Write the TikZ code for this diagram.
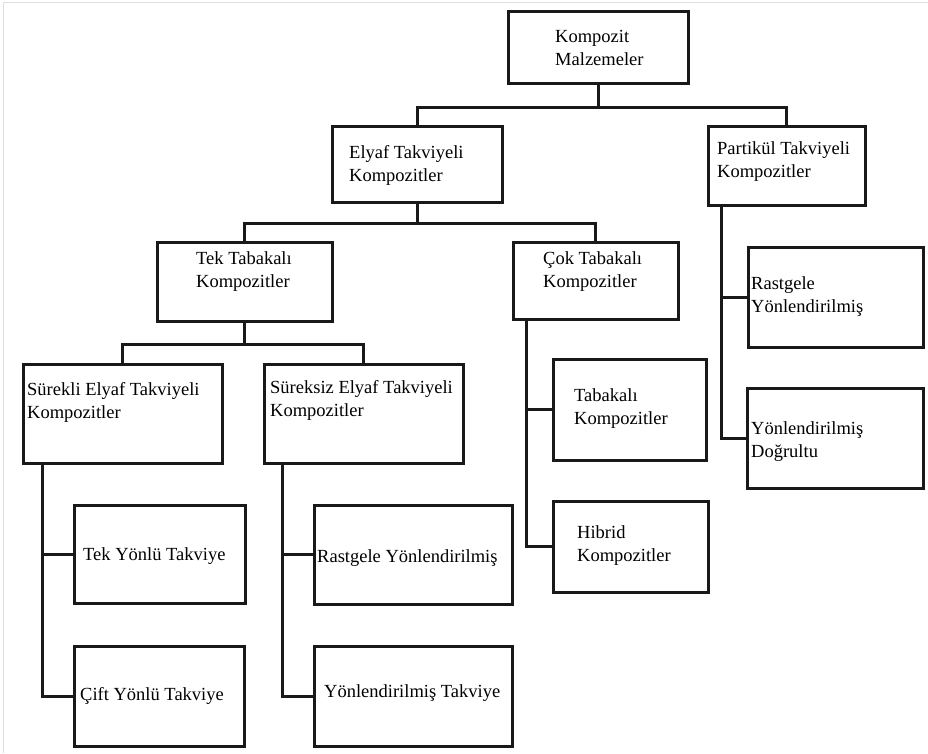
\documentclass[tikz,border=0pt]{standalone}
\usepackage{fontspec}
\setmainfont{Liberation Serif}
\usetikzlibrary{fit}
\begin{document}
\begin{tikzpicture}[x=1pt,y=-1pt,
  box/.style={draw=black!90, line width=3pt, inner sep=0pt},
  lbl/.style={anchor=base west, inner sep=0pt, align=left, text=black, font=\fontsize{18.5}{23.5}\selectfont},
  wire/.style={draw=black!90, line width=3pt}]
\useasboundingbox (0,0) rectangle (928,753);
\draw[gray!25, line width=1.5pt] (3.5,753) -- (3.5,2.5) -- (928,2.5);

% boxes
\node[box, fit={(508,11)(688,83)}] (komp) {};
\node[box, fit={(332,126)(502,202)}] (elyaf) {};
\node[box, fit={(708,126)(865,205)}] (part) {};
\node[box, fit={(157,242)(332,321)}] (tekt) {};
\node[box, fit={(513,242)(678,319)}] (cokt) {};
\node[box, fit={(748,247)(923,347)}] (prast) {};
\node[box, fit={(23,364)(222,463)}] (surek) {};
\node[box, fit={(264,364)(463,463)}] (sureks) {};
\node[box, fit={(553,359)(706,460)}] (tabak) {};
\node[box, fit={(747,388)(923,488)}] (ydog) {};
\node[box, fit={(74,505)(245,603)}] (tekyon) {};
\node[box, fit={(314,505)(512,604)}] (rastyon) {};
\node[box, fit={(553,501)(708,592)}] (hibrid) {};
\node[box, fit={(74,646)(244,746)}] (cift) {};
\node[box, fit={(314,646)(512,746)}] (ytak) {};

% texts (two-line nodes are anchored at the baseline of their last line)
\node[lbl] (komp-t) at (555,65.5) {Kompozit\\Malzemeler};
\node[lbl] (elyaf-t) at (349,181.5) {Elyaf Takviyeli\\Kompozitler};
\node[lbl] (part-t) at (717,177.5) {Partikül Takviyeli\\Kompozitler};
\node[lbl] (tekt-t) at (196,287.5) {Tek Tabakalı\\Kompozitler};
\node[lbl] (cokt-t) at (543,287.5) {Çok Tabakalı\\Kompozitler};
\node[lbl] (prast-t) at (751,312.5) {Rastgele\\Yönlendirilmiş};
\node[lbl] (surek-t) at (27,418.5) {Sürekli Elyaf Takviyeli\\Kompozitler};
\node[lbl] (sureks-t) at (270,416.5) {Süreksiz Elyaf Takviyeli\\Kompozitler};
\node[lbl] (tabak-t) at (574,424.5) {Tabakalı\\Kompozitler};
\node[lbl] (ydog-t) at (751,457.5) {Yönlendirilmiş\\Doğrultu};
\node[lbl] (tekyon-t) at (83,560) {Tek Yönlü Takviye};
\node[lbl] (rastyon-t) at (317,562) {Rastgele Yönlendirilmiş};
\node[lbl] (hibrid-t) at (577,561.5) {Hibrid\\Kompozitler};
\node[lbl] (cift-t) at (80,700) {Çift Yönlü Takviye};
\node[lbl] (ytak-t) at (324,697) {Yönlendirilmiş Takviye};

% tree connectors
\draw[wire] (komp.south) -- ++(0,23) coordinate (j1);
\draw[wire] (elyaf.north) |- (j1) -| (part.north);
\draw[wire] (elyaf.south) -- ++(0,20) coordinate (j2);
\draw[wire] (tekt.north) |- (j2) -| (cokt.north);
\draw[wire] (tekt.south) -- ++(0,22) coordinate (j3);
\draw[wire] (surek.north) |- (j3) -| (sureks.north);

% side stems
\draw[wire] (surek.south west) ++(21,0) |- (tekyon.west);
\draw[wire] (surek.south west) ++(21,0) |- (cift.west);
\draw[wire] (sureks.south west) ++(20,0) |- (rastyon.west);
\draw[wire] (sureks.south west) ++(20,0) |- (ytak.west);
\draw[wire] (cokt.south west) ++(15,0) |- (tabak.west);
\draw[wire] (cokt.south west) ++(15,0) |- (hibrid.west);
\draw[wire] (part.south west) ++(15,0) |- (prast.west);
\draw[wire] (part.south west) ++(15,0) |- (ydog.west);
\end{tikzpicture}
\end{document}
